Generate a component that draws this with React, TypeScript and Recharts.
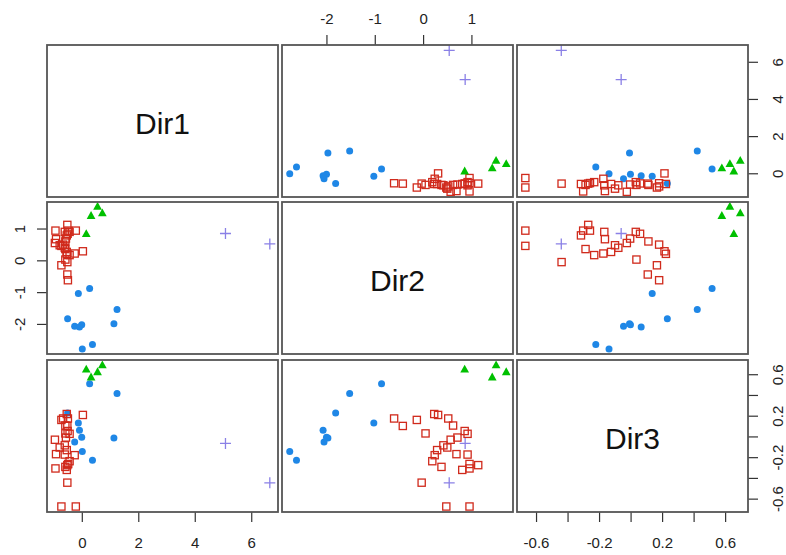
import React from 'react';
import { ScatterChart, Scatter, XAxis, YAxis } from 'recharts';

// ---------- data ----------
const variableNames = ['Dir1', 'Dir2', 'Dir3'];

const blueDir1 = [0.26, -0.14, 1.23, -0.52, 1.12, -0.27, -0.02, -0.1, 0.36, 0.0];
const blueDir2 = [-0.87, -1.03, -1.53, -1.82, -1.98, -2.06, -2.01, -2.08, -2.63, -2.77];
const blueDir3 = [0.514, 0.134, 0.42, 0.23, -0.01, -0.048, -0.004, 0.064, -0.224, -0.14];

const redDir1 = [-0.23, -0.74, -0.53, -0.53, -0.95, -0.5, -0.55, -0.62, -0.93, -0.6, -0.45, -0.27, -0.55, -0.8, -0.62, -0.97, -0.58, -0.45, -0.52, -0.6, -0.68, 0.02, -0.55, -0.6, -0.74, -0.53, -0.51];
const redDir2 = [0.95, 0.47, -0.04, 1.13, 0.95, 0.95, 0.8, 0.91, 0.68, 0.37, 0.18, 0.23, 0.28, 0.49, 0.41, 0.56, 0.7, 0.91, 0.85, 0.61, 0.51, 0.3, 0.22, 0.04, -0.14, -0.43, -0.61];
const redDir3 = [-0.671, -0.671, -0.441, -0.272, -0.304, -0.261, -0.318, -0.17, -0.166, -0.289, -0.234, -0.176, -0.127, -0.102, -0.081, -0.027, -0.006, 0.03, 0.057, 0.11, 0.178, 0.212, 0.221, 0.034, 0.164, 0.106, 0.178];

const greenDir1 = [0.14, 0.54, 0.71, 0.31];
const greenDir2 = [0.85, 1.71, 1.5, 1.42];
const greenDir3 = [0.652, 0.627, 0.693, 0.576];

const purpleDir1 = [5.07, 6.64];
const purpleDir2 = [0.86, 0.53];
const purpleDir3 = [-0.063, -0.443];

const dir1Ticks = [0, 2, 4, 6];
const dir1TickLabels = ['0', '2', '4', '6'];
const dir2Ticks = [-2, -1, 0, 1];
const dir2TickLabels = ['-2', '-1', '0', '1'];
const dir3Ticks = [-0.6, -0.4, -0.2, 0, 0.2, 0.4, 0.6];
const dir3TickLabels = ['-0.6', '', '-0.2', '', '0.2', '', '0.6'];

const dir1Domain: [number, number] = [-1.25, 6.93];
const dir2Domain: [number, number] = [-2.93, 1.85];
const dir3Domain: [number, number] = [-0.724, 0.742];

// ---------- styling ----------
const FONT = "'Liberation Sans', Arial, Helvetica, sans-serif";
const BLUE = '#1F87E6';
const RED = '#D02A1C';
const GREEN = '#00C000';
const PURPLE = '#8A80E6';

const domains = [dir1Domain, dir2Domain, dir3Domain];
const tickSets = [dir1Ticks, dir2Ticks, dir3Ticks];
const tickLabelSets = [dir1TickLabels, dir2TickLabels, dir3TickLabels];

const BlueDot = (p: any) => <circle cx={p.cx} cy={p.cy} r={3.5} fill={BLUE} />;
const RedSquare = (p: any) => (
  <rect x={p.cx - 3.6} y={p.cy - 3.6} width={7.2} height={7.2} fill="none" stroke={RED} strokeWidth={1.3} />
);
const GreenTriangle = (p: any) => {
  const s = 4.6;
  return (
    <polygon
      points={`${p.cx},${p.cy - s} ${p.cx - s * 0.95},${p.cy + s * 0.7} ${p.cx + s * 0.95},${p.cy + s * 0.7}`}
      fill={GREEN}
    />
  );
};
const PurplePlus = (p: any) => (
  <path d={`M${p.cx - 5.5},${p.cy}H${p.cx + 5.5}M${p.cx},${p.cy - 5.5}V${p.cy + 5.5}`} stroke={PURPLE} strokeWidth={1.3} fill="none" />
);

const groups = [
  { name: 'g1', values: [blueDir1, blueDir2, blueDir3], shape: BlueDot },
  { name: 'g2', values: [redDir1, redDir2, redDir3], shape: RedSquare },
  { name: 'g3', values: [greenDir1, greenDir2, greenDir3], shape: GreenTriangle },
  { name: 'g4', values: [purpleDir1, purpleDir2, purpleDir3], shape: PurplePlus },
];

const colLeft = [47, 282, 517];
const rowTop = [45, 202, 360];
const PW = 231;
const PH = 152;
const AX = 44;

const labelFor = (v: number, idx: number) => {
  const t = tickSets[idx];
  const i = t.findIndex((u) => Math.abs(u - v) < 1e-9);
  return i >= 0 ? tickLabelSets[idx][i] : '';
};

const makeXTick = (side: 'top' | 'bottom', idx: number) => (props: any) => {
  const { x, y, payload } = props;
  const cy = side === 'top' ? y - 17 : y + 20;
  return (
    <text x={x} y={cy} textAnchor="middle" dominantBaseline="central" fontSize={15} fill="#222" fontFamily={FONT}>
      {labelFor(payload.value, idx)}
    </text>
  );
};

const makeYTick = (side: 'left' | 'right', idx: number) => (props: any) => {
  const { x, y, payload } = props;
  const cx = side === 'right' ? x + 20 : x - 17;
  return (
    <text
      x={cx}
      y={y}
      transform={`rotate(-90 ${cx} ${y})`}
      textAnchor="middle"
      dominantBaseline="central"
      fontSize={15}
      fill="#222"
      fontFamily={FONT}
    >
      {labelFor(payload.value, idx)}
    </text>
  );
};

function Panel({ r, c }: { r: number; c: number }) {
  const hasTop = r === 0 && c === 1;
  const hasBottom = r === 2 && (c === 0 || c === 2);
  const hasLeft = r === 1 && c === 0;
  const hasRight = c === 2 && (r === 0 || r === 2);
  if (r === c && !hasTop && !hasBottom && !hasLeft && !hasRight) return null;
  const eT = hasTop ? AX : 0;
  const eB = hasBottom ? AX : 0;
  const eL = hasLeft ? AX : 0;
  const eR = hasRight ? AX : 0;
  const w = PW + eL + eR;
  const h = PH + eT + eB;
  const xv = c;
  const yv = r;
  const showX = hasTop || hasBottom;
  const showY = hasLeft || hasRight;
  return (
    <div style={{ position: 'absolute', left: colLeft[c] - eL, top: rowTop[r] - eT, width: w, height: h }}>
      <ScatterChart width={w} height={h} margin={{ top: 0, right: 0, bottom: 0, left: 0 }}>
        <XAxis
          type="number"
          dataKey="x"
          domain={domains[xv]}
          ticks={tickSets[xv]}
          interval={0}
          allowDataOverflow
          hide={!showX}
          orientation={hasTop ? 'top' : 'bottom'}
          height={showX ? AX : 0}
          axisLine={false}
          tickLine={{ stroke: '#333', strokeWidth: 1.2 }}
          tickSize={10}
          tickMargin={0}
          tick={makeXTick(hasTop ? 'top' : 'bottom', xv)}
        />
        <YAxis
          type="number"
          dataKey="y"
          domain={domains[yv]}
          ticks={tickSets[yv]}
          interval={0}
          allowDataOverflow
          hide={!showY}
          orientation={hasRight ? 'right' : 'left'}
          width={showY ? AX : 0}
          axisLine={false}
          tickLine={{ stroke: '#333', strokeWidth: 1.2 }}
          tickSize={10}
          tickMargin={0}
          tick={makeYTick(hasRight ? 'right' : 'left', yv)}
        />
        {r !== c &&
          groups.map((g) => (
            <Scatter
              key={g.name}
              name={g.name}
              data={g.values[xv].map((xVal, i) => ({ x: xVal, y: g.values[yv][i] }))}
              shape={g.shape}
              isAnimationActive={false}
            />
          ))}
      </ScatterChart>
    </div>
  );
}

export default function App() {
  const cells: { r: number; c: number }[] = [];
  for (let r = 0; r < 3; r++) for (let c = 0; c < 3; c++) cells.push({ r, c });
  return (
    <div style={{ position: 'absolute', left: 0, top: 0, width: 786, height: 555, background: '#fff' }}>
      {cells.map(({ r, c }) => (
        <Panel key={`${r}-${c}`} r={r} c={c} />
      ))}
      <svg width={786} height={555} style={{ position: 'absolute', left: 0, top: 0, pointerEvents: 'none' }}>
        {cells.map(({ r, c }) => (
          <rect key={`f${r}-${c}`} x={colLeft[c]} y={rowTop[r]} width={PW} height={PH} fill="none" stroke="#555" strokeWidth={1.8} />
        ))}
        {variableNames.map((n, i) => (
          <text
            key={n}
            x={colLeft[i] + PW / 2}
            y={rowTop[i] + PH / 2 + 12.5}
            textAnchor="middle"
            fontSize={30}
            fill="#111"
            fontFamily={FONT}
          >
            {n}
          </text>
        ))}
      </svg>
    </div>
  );
}
